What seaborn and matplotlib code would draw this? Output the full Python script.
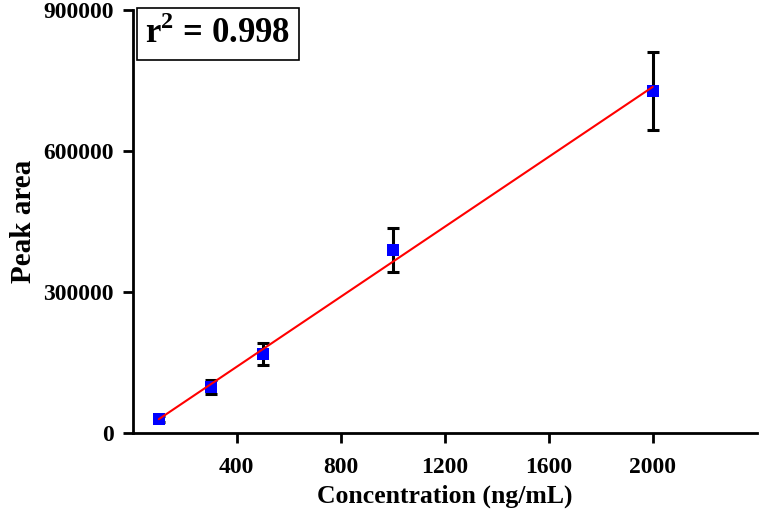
import numpy as np
import pandas as pd
import seaborn as sns
import matplotlib.pyplot as plt

# ---------------------------- DATA ----------------------------
conc = [100, 300, 500, 1000, 2000]                    # ng/mL
area = [29800, 98000, 168000, 389000, 727700]         # mean peak area
sd = [7000, 15000, 24000, 47000, 83000]               # error bars
r2_text = 'r$^{2}$ = 0.998'
xticks = [400, 800, 1200, 1600, 2000]
yticks = [0, 300000, 600000, 900000]

df = pd.DataFrame({'Concentration': conc, 'Area': area, 'SD': sd})

# ---------------------------- STYLE ---------------------------
sns.set_style('ticks')
plt.rcParams['font.family'] = ['Liberation Serif', 'DejaVu Serif']
plt.rcParams['font.weight'] = 'bold'
plt.rcParams['mathtext.fontset'] = 'custom'
plt.rcParams['mathtext.rm'] = 'Liberation Serif:bold'
plt.rcParams['mathtext.bf'] = 'Liberation Serif:bold'
for key in ['text.color', 'axes.labelcolor', 'xtick.color', 'ytick.color',
            'axes.edgecolor']:
    plt.rcParams[key] = 'black'

fig = plt.figure(figsize=(7.59, 5.17), dpi=100)
ax = fig.add_axes([0.175, 0.1625, 0.822, 0.818])

# error bars, then squares, then the linear fit
ax.errorbar(df['Concentration'], df['Area'], yerr=df['SD'], fmt='none',
            ecolor='black', elinewidth=2.2, capsize=4, capthick=2.2, zorder=2)
sns.scatterplot(data=df, x='Concentration', y='Area', marker='s', s=70,
                color='#0000ff', edgecolor='#0000ff', linewidth=0, ax=ax, zorder=3)
sns.regplot(data=df, x='Concentration', y='Area', ci=None, scatter=False,
            line_kws={'color': 'red', 'linewidth': 1.5, 'zorder': 4}, ax=ax)

ax.set_xlim(0, 2400)
ax.set_ylim(0, 900000)
ax.set_xticks(xticks)
ax.set_yticks(yticks)
ax.tick_params(axis='both', direction='out', width=2, length=7, labelsize=17)
ax.tick_params(axis='x', pad=10)
ax.tick_params(axis='y', pad=7)
for lab in ax.get_xticklabels() + ax.get_yticklabels():
    lab.set_fontweight('bold')

for side in ['left', 'bottom']:
    ax.spines[side].set_linewidth(2)
sns.despine(ax=ax)

ax.set_xlabel('Concentration (ng/mL)', fontsize=18.5, fontweight='bold', labelpad=5)
ax.set_ylabel('Peak area', fontsize=21, fontweight='bold', labelpad=4)

ax.text(0.02, 0.985, r2_text, transform=ax.transAxes, fontsize=25,
        fontweight='bold', va='top', ha='left',
        bbox=dict(boxstyle='square,pad=0.25', facecolor='white',
                  edgecolor='black', linewidth=1.2))

fig.savefig('out.png', dpi=100)
